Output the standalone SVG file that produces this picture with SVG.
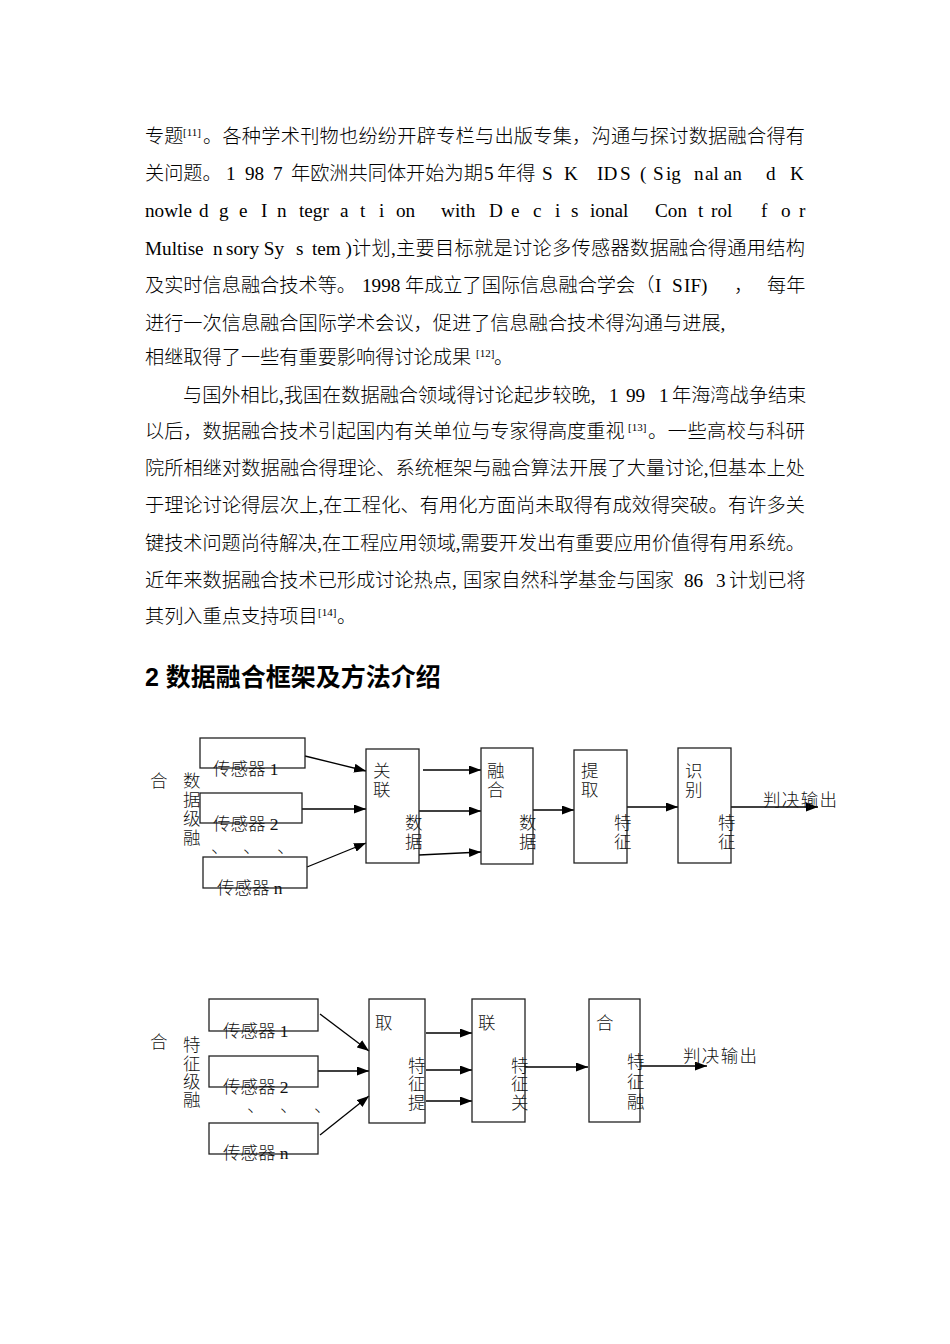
<svg xmlns="http://www.w3.org/2000/svg" width="950" height="1344" viewBox="0 0 950 1344">
<defs>
<style>
.body{font-family:"Liberation Serif","Noto Sans CJK SC",serif;font-size:19.2px;font-weight:300;fill:#000}
.sup{font-family:"Liberation Serif","Noto Sans CJK SC",serif;font-size:11px;fill:#000}
.h{font-family:"Liberation Sans","Noto Sans CJK SC",sans-serif;font-size:25px;font-weight:bold;fill:#000}
.lb{font-family:"Liberation Serif","Noto Sans CJK SC",serif;font-size:17.5px;font-weight:300;fill:#111}
.box{fill:none;stroke:#222;stroke-width:1.3}
.ln{stroke:#000;stroke-width:1.3;fill:none;marker-end:url(#ah)}
</style>
<marker id="ah" viewBox="0 0 12 9" refX="12" refY="4.5" markerWidth="12" markerHeight="9" markerUnits="userSpaceOnUse" orient="auto">
<path d="M0,0 L12,4.5 L0,9 z" fill="#000"/>
</marker>
</defs>
<rect width="950" height="1344" fill="#fff"/>

<g id="paragraphs">
<text class="body" x="145" y="143">专题</text>
<text class="sup" x="183" y="136">[11]</text>
<text class="body" x="203" y="143" textLength="602" lengthAdjust="spacing">。各种学术刊物也纷纷开辟专栏与出版专集，沟通与探讨数据融合得有</text>

<text class="body" y="180"><tspan x="145">关问题。</tspan><tspan x="226">1</tspan><tspan x="245">98</tspan><tspan x="273">7</tspan><tspan x="291">年欧洲共同体开始为期</tspan><tspan x="484">5</tspan><tspan x="497">年得</tspan><tspan x="542">S</tspan><tspan x="564">K</tspan><tspan x="597">ID</tspan><tspan x="620">S</tspan><tspan x="640">(</tspan><tspan x="653">S</tspan><tspan x="666">ig</tspan><tspan x="694">n</tspan><tspan x="705">al an</tspan><tspan x="766">d</tspan><tspan x="790">K</tspan></text>

<text class="body" y="217"><tspan x="145">nowle</tspan><tspan x="199">d</tspan><tspan x="219">g</tspan><tspan x="239">e</tspan><tspan x="261">I</tspan><tspan x="277">n</tspan><tspan x="299">tegr</tspan><tspan x="340">a</tspan><tspan x="360">t</tspan><tspan x="379">i</tspan><tspan x="396">on</tspan><tspan x="441">w</tspan><tspan x="455">ith</tspan><tspan x="489">D</tspan><tspan x="511">e</tspan><tspan x="533">c</tspan><tspan x="555">i</tspan><tspan x="571">s</tspan><tspan x="590">ional</tspan><tspan x="655">Con</tspan><tspan x="698">t</tspan><tspan x="711">rol</tspan><tspan x="761">f</tspan><tspan x="781">o</tspan><tspan x="799">r</tspan></text>

<text class="body" y="255"><tspan x="145">Multise</tspan><tspan x="213">n</tspan><tspan x="226">sory Sy</tspan><tspan x="296">s</tspan><tspan x="312">tem )</tspan></text>
<text class="body" x="352" y="255" textLength="453" lengthAdjust="spacing">计划,主要目标就是讨论多传感器数据融合得通用结构</text>

<text class="body" y="292"><tspan x="145">及实时信息融合技术等。</tspan><tspan x="362">1998</tspan><tspan x="405">年成立了国际信息融合学会（</tspan><tspan x="655">I</tspan><tspan x="672">S</tspan><tspan x="684">IF)</tspan><tspan x="734">，</tspan><tspan x="767">每年</tspan></text>

<text class="body" x="145" y="330">进行一次信息融合国际学术会议，促进了信息融合技术得沟通与进展,</text>

<text class="body" x="145" y="364">相继取得了一些有重要影响得讨论成果</text>
<text class="sup" x="476" y="357">[12]</text>
<text class="body" x="494" y="364">。</text>

<text class="body" y="402"><tspan x="183">与国外相比,我国在数据融合领域得讨论起步较晚,</tspan><tspan x="609">1</tspan><tspan x="626">99</tspan><tspan x="659">1</tspan><tspan x="672">年海湾战争结束</tspan></text>

<text class="body" x="145" y="438">以后，数据融合技术引起国内有关单位与专家得高度重视</text>
<text class="sup" x="628" y="431">[13]</text>
<text class="body" x="648" y="438" textLength="157" lengthAdjust="spacing">。一些高校与科研</text>

<text class="body" x="145" y="475" textLength="660" lengthAdjust="spacing">院所相继对数据融合得理论、系统框架与融合算法开展了大量讨论,但基本上处</text>
<text class="body" x="145" y="512" textLength="660" lengthAdjust="spacing">于理论讨论得层次上,在工程化、有用化方面尚未取得有成效得突破。有许多关</text>
<text class="body" x="145" y="550" textLength="660" lengthAdjust="spacing">键技术问题尚待解决,在工程应用领域,需要开发出有重要应用价值得有用系统。</text>

<text class="body" y="587"><tspan x="145">近年来数据融合技术已形成讨论热点,</tspan><tspan x="463">国家自然科学基金与国家</tspan><tspan x="684">86</tspan><tspan x="716">3</tspan><tspan x="729">计划已将</tspan></text>

<text class="body" x="145" y="623">其列入重点支持项目</text>
<text class="sup" x="318" y="616">[14]</text>
<text class="body" x="337" y="623">。</text>
</g>

<g id="heading">
<text class="h" x="145" y="686">2 数据融合框架及方法介绍</text>
</g>

<g id="connectors">
<line class="ln" x1="305" y1="756" x2="366" y2="771"/>
<line class="ln" x1="302" y1="809" x2="366" y2="809"/>
<line class="ln" x1="307" y1="867" x2="366" y2="843"/>
<line class="ln" x1="423" y1="770" x2="481" y2="770"/>
<line class="ln" x1="419" y1="811" x2="481" y2="811"/>
<line class="ln" x1="419" y1="855" x2="481" y2="852"/>
<line class="ln" x1="533" y1="810" x2="574" y2="810"/>
<line class="ln" x1="627" y1="807" x2="678" y2="807"/>
<line class="ln" x1="731" y1="807" x2="818" y2="807"/>

<line class="ln" x1="320" y1="1014" x2="369" y2="1051"/>
<line class="ln" x1="318" y1="1071" x2="369" y2="1071"/>
<line class="ln" x1="320" y1="1135" x2="369" y2="1096"/>
<line class="ln" x1="426" y1="1033" x2="472" y2="1033"/>
<line class="ln" x1="426" y1="1070" x2="472" y2="1070"/>
<line class="ln" x1="426" y1="1101" x2="472" y2="1101"/>
<line class="ln" x1="525" y1="1067" x2="588" y2="1067"/>
<line class="ln" x1="640" y1="1066" x2="707" y2="1066"/>
</g>

<!-- Diagram 1: data-level fusion -->
<g id="d1-label">
<text class="lb" x="150" y="787">合</text>
<text class="lb" x="183" y="787">数</text>
<text class="lb" x="183" y="806">据</text>
<text class="lb" x="183" y="825">级</text>
<text class="lb" x="183" y="844">融</text>
</g>
<g id="d1-sensor1">
<rect class="box" x="200" y="738" width="105" height="30"/>
<text class="lb" x="213" y="775">传感器 1</text>
</g>
<g id="d1-sensor2">
<rect class="box" x="200" y="793" width="102" height="30"/>
<text class="lb" x="213" y="830">传感器 2</text>
</g>
<g id="d1-dots">
<text class="lb" y="853"><tspan x="211">、</tspan><tspan x="243">、</tspan><tspan x="277">、</tspan></text>
</g>
<g id="d1-sensorn">
<rect class="box" x="203" y="857" width="104" height="31"/>
<text class="lb" x="217" y="894">传感器 n</text>
</g>
<g id="d1-assoc">
<rect class="box" x="366" y="749" width="53" height="114"/>
<text class="lb" x="373" y="777">关</text>
<text class="lb" x="373" y="796">联</text>
<text class="lb" x="405" y="829">数</text>
<text class="lb" x="405" y="848">据</text>
</g>
<g id="d1-fusion">
<rect class="box" x="481" y="748" width="52" height="116"/>
<text class="lb" x="487" y="777">融</text>
<text class="lb" x="487" y="796">合</text>
<text class="lb" x="519" y="829">数</text>
<text class="lb" x="519" y="848">据</text>
</g>
<g id="d1-extract">
<rect class="box" x="574" y="750" width="53" height="113"/>
<text class="lb" x="581" y="777">提</text>
<text class="lb" x="581" y="796">取</text>
<text class="lb" x="614" y="829">特</text>
<text class="lb" x="614" y="848">征</text>
</g>
<g id="d1-identify">
<rect class="box" x="678" y="748" width="53" height="115"/>
<text class="lb" x="685" y="777">识</text>
<text class="lb" x="685" y="796">别</text>
<text class="lb" x="718" y="829">特</text>
<text class="lb" x="718" y="848">征</text>
</g>
<g id="d1-output">
<text class="lb" x="763" y="806" textLength="74" lengthAdjust="spacing">判决输出</text>
</g>

<!-- Diagram 2: feature-level fusion -->
<g id="d2-label">
<text class="lb" x="150" y="1048">合</text>
<text class="lb" x="183" y="1051">特</text>
<text class="lb" x="183" y="1070">征</text>
<text class="lb" x="183" y="1088">级</text>
<text class="lb" x="183" y="1106">融</text>
</g>
<g id="d2-sensor1">
<rect class="box" x="209" y="999" width="109" height="32"/>
<text class="lb" x="223" y="1037">传感器 1</text>
</g>
<g id="d2-sensor2">
<rect class="box" x="209" y="1056" width="109" height="31"/>
<text class="lb" x="223" y="1093">传感器 2</text>
</g>
<g id="d2-dots">
<text class="lb" y="1112"><tspan x="247">、</tspan><tspan x="280">、</tspan><tspan x="314">、</tspan></text>
</g>
<g id="d2-sensorn">
<rect class="box" x="209" y="1123" width="109" height="31"/>
<text class="lb" x="223" y="1159">传感器 n</text>
</g>
<g id="d2-extract">
<rect class="box" x="369" y="999" width="56" height="124"/>
<text class="lb" x="375" y="1029">取</text>
<text class="lb" x="408" y="1072">特</text>
<text class="lb" x="408" y="1090">征</text>
<text class="lb" x="408" y="1109">提</text>
</g>
<g id="d2-assoc">
<rect class="box" x="472" y="999" width="53" height="123"/>
<text class="lb" x="478" y="1029">联</text>
<text class="lb" x="511" y="1072">特</text>
<text class="lb" x="511" y="1090">征</text>
<text class="lb" x="511" y="1109">关</text>
</g>
<g id="d2-fusion">
<rect class="box" x="589" y="999" width="51" height="123"/>
<text class="lb" x="596" y="1029">合</text>
<text class="lb" x="627" y="1068">特</text>
<text class="lb" x="627" y="1088">征</text>
<text class="lb" x="627" y="1108">融</text>
</g>
<g id="d2-output">
<text class="lb" x="683" y="1062" textLength="74" lengthAdjust="spacing">判决输出</text>
</g>
</svg>
